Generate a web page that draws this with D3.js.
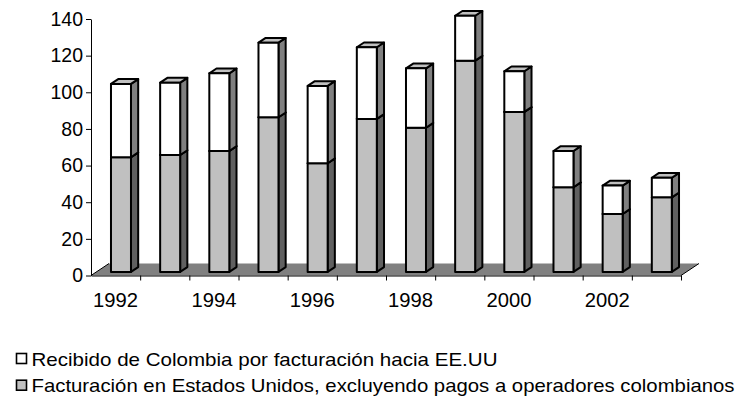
<!DOCTYPE html>
<html>
<head>
<meta charset="utf-8">
<script src="https://cdn.jsdelivr.net/npm/d3@7"></script>
<style>
    body { margin: 0; background: #fff; }
    text { font-family: "Liberation Sans", Arial, sans-serif; fill: #000; }
</style>
</head>
<body>
<svg width="737" height="401"></svg>
<script>
// values
const years = [1992, 1993, 1994, 1995, 1996, 1997, 1998, 1999, 2000, 2001, 2002, 2003];
const facturacionEEUU = [62.6, 63.8, 66.0, 84.4, 59.3, 83.5, 78.7, 115.3, 87.3, 46.2, 31.6, 40.7];
const recibidoColombia = [40.0, 39.5, 42.4, 40.7, 42.2, 39.1, 32.4, 24.5, 22.2, 19.8, 15.5, 10.7];
const yTicks = [0, 20, 40, 60, 80, 100, 120, 140];
const xLabels = [1992, 1994, 1996, 1998, 2000, 2002];
const legendLabels = [
    "Recibido de Colombia por facturación hacia EE.UU",
    "Facturación en Estados Unidos, excluyendo pagos a operadores colombianos"
];

let svg = d3.select("svg");

let plotLeft = 91, plotRight = 681, plotTop = 19, plotBase = 275.5;
let depth = { x: 18, y: -12 };   // floor depth vector
let zFront = 0.3, zBack = 0.7;   // bar position inside the floor depth
let barW = 20;

let x = d3.scaleBand().domain(years).range([plotLeft, plotRight]).padding(0);
let y = d3.scaleLinear().domain([0, 140]).range([plotBase, plotTop]);

function proj(px, v, z) {
    return [px + z * depth.x, y(v) + z * depth.y];
}

// floor
let floor = [[plotLeft, plotBase], [plotRight, plotBase],
             [plotRight + depth.x, plotBase + depth.y], [plotLeft + depth.x, plotBase + depth.y]];
svg.append("polygon")
    .attr("points", floor.map(p => p.join(",")).join(" "))
    .style("fill", "#808080");
svg.append("line")
    .attr("x1", plotLeft).attr("y1", plotBase).attr("x2", plotLeft + depth.x).attr("y2", plotBase + depth.y)
    .style("stroke", "#000").style("stroke-width", 1);
svg.append("line")
    .attr("x1", plotRight).attr("y1", plotBase).attr("x2", plotRight + depth.x).attr("y2", plotBase + depth.y)
    .style("stroke", "#000").style("stroke-width", 1);

// axes
let yAxis = svg.append("g")
    .attr("transform", "translate(" + plotLeft + ",0)")
    .call(d3.axisLeft(y).tickValues(yTicks).tickSize(5).tickSizeOuter(0).tickPadding(3));
yAxis.selectAll("text").style("font-size", "19.5px");

let xIdx = d3.scaleLinear().domain([0, years.length]).range([plotLeft, plotRight]);
let xAxis = svg.append("g")
    .attr("transform", "translate(0," + plotBase + ")")
    .call(d3.axisBottom(xIdx).tickValues(d3.range(1, years.length + 1)).tickFormat("").tickSize(5).tickSizeOuter(0));
xAxis.selectAll("path, line").style("stroke", "#000");
yAxis.selectAll("path, line").style("stroke", "#000");

svg.append("g").selectAll("text")
    .data(xLabels)
    .enter()
    .append("text")
        .attr("x", d => x(d) + x.bandwidth() / 2)
        .attr("y", 306.5)
        .attr("text-anchor", "middle")
        .attr("textLength", 45)
        .attr("lengthAdjust", "spacingAndGlyphs")
        .style("font-size", "19.5px")
        .text(d => d);

// stacked 3d bars
let series = [
    { values: facturacionEEUU, front: "#c0c0c0", side: "#606060", lid: "#a0a0a0" },
    { values: recibidoColombia, front: "#ffffff", side: "#808080", lid: "#c0c0c0" }
];

let bars = svg.append("g")
    .style("stroke", "#000")
    .style("stroke-width", 2)
    .style("stroke-linejoin", "round");

years.forEach(function(yr, i) {
    let x0 = x(yr) + (x.bandwidth() - barW) / 2;
    let x1 = x0 + barW;
    let v0 = 0;
    series.forEach(function(s) {
        let v1 = v0 + s.values[i];
        let f0 = proj(x0, v1, zFront), f1 = proj(x1, v0, zFront);
        let side = [proj(x1, v0, zFront), proj(x1, v0, zBack), proj(x1, v1, zBack), proj(x1, v1, zFront)];
        let lid = [proj(x0, v1, zFront), proj(x1, v1, zFront), proj(x1, v1, zBack), proj(x0, v1, zBack)];
        bars.append("polygon")
            .attr("points", side.map(p => p.join(",")).join(" "))
            .style("fill", s.side);
        bars.append("polygon")
            .attr("points", lid.map(p => p.join(",")).join(" "))
            .style("fill", s.lid);
        bars.append("rect")
            .attr("x", f0[0]).attr("y", f0[1])
            .attr("width", f1[0] - f0[0]).attr("height", f1[1] - f0[1])
            .style("fill", s.front);
        v0 = v1;
    });
});

// legend
let legend = svg.append("g");
let legendFill = ["#ffffff", "#c0c0c0"];
let legendWidth = [466, 703];
legend.selectAll("rect")
    .data(legendLabels)
    .enter()
    .append("rect")
        .attr("x", 16.5)
        .attr("y", (d, i) => 353.5 + i * 26.7)
        .attr("width", 10)
        .attr("height", 10)
        .style("fill", (d, i) => legendFill[i])
        .style("stroke", "#000")
        .style("stroke-width", 1.6);
legend.selectAll("text")
    .data(legendLabels)
    .enter()
    .append("text")
        .attr("x", 31.5)
        .attr("y", (d, i) => 365.5 + i * 26.7)
        .attr("textLength", (d, i) => legendWidth[i])
        .attr("lengthAdjust", "spacingAndGlyphs")
        .style("font-size", "18.5px")
        .text(d => d);
</script>
</body>
</html>
